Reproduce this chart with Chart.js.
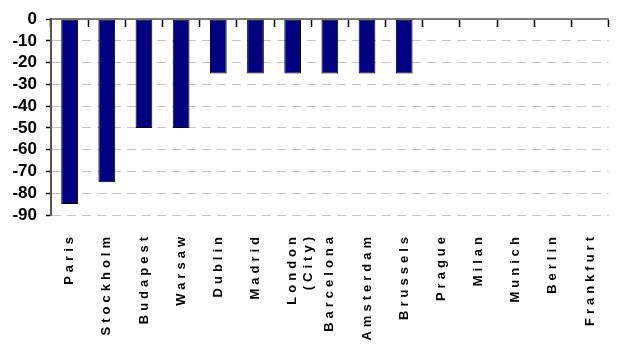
<!DOCTYPE html>
<html>
<head>
<meta charset="utf-8">
<script src="https://cdn.jsdelivr.net/npm/chart.js@4/dist/chart.umd.min.js"></script>
<style>
  html, body { margin: 0; padding: 0; background: #fff; }
  #wrap { width: 624px; height: 360px; }
</style>
</head>
<body>
<div id="wrap"><canvas id="chart_cities"></canvas></div>
<script>
var cities = ['Paris', 'Stockholm', 'Budapest', 'Warsaw', 'Dublin', 'Madrid', ['London', '(City)'],
  'Barcelona', 'Amsterdam', 'Brussels', 'Prague', 'Milan', 'Munich', 'Berlin', 'Frankfurt'];
var values = [-85, -75, -50, -50, -25, -25, -25, -25, -25, -25, 0, 0, 0, 0, 0];
var yTicks = { min: -90, max: 0, step: 10 };

var fontFamily = "'Liberation Sans', Arial, sans-serif";

var chart_cities = new Chart(document.getElementById('chart_cities'), {
    type: 'bar',
    data: {
        labels: cities,
        datasets: [
            {
                data: values,
                backgroundColor: '#000080',
                borderColor: '#000000',
                borderWidth: 1,
                borderSkipped: false,
                categoryPercentage: 1,
                barPercentage: 0.45
            }
        ]
    },
    options: {
        animation: false,
        responsive: true,
        maintainAspectRatio: false,
        layout: {
            padding: { top: 17, right: 9, left: 0, bottom: 0 }
        },
        plugins: {
            legend: { display: false },
            tooltip: { enabled: false }
        },
        scales: {
            x: {
                type: 'category',
                position: 'bottom',
                offset: true,
                grid: { display: false, drawTicks: false },
                border: { display: false },
                ticks: {
                    autoSkip: false,
                    minRotation: 90,
                    maxRotation: 90,
                    padding: 18,
                    z: 1,
                    color: '#000',
                    font: { family: fontFamily, size: 13, weight: 'bold' }
                },
                afterFit: function(scale) { scale.height = 145; }
            },
            // axis line at value 0, with the category ticks pointing down
            x2: {
                type: 'category',
                labels: cities,
                position: { y: 0 },
                offset: true,
                grid: {
                    offset: true,
                    drawOnChartArea: false,
                    drawTicks: true,
                    tickLength: 7,
                    tickColor: () => '#000000',
                    tickWidth: 1.5
                },
                border: { display: true, color: '#7a7a7a', width: 2 },
                ticks: { display: false }
            },
            y: {
                type: 'linear',
                min: yTicks.min,
                max: yTicks.max,
                grid: {
                    color: '#c4c4c4',
                    lineWidth: 1,
                    tickLength: 5,
                    tickColor: () => '#000000',
                    tickWidth: 1.5,
                    tickBorderDash: []
                },
                border: { display: true, color: '#555555', width: 2, dash: [9, 6] },
                ticks: {
                    autoSkip: false,
                    stepSize: yTicks.step,
                    padding: 9,
                    color: '#000',
                    font: { family: fontFamily, size: 17, weight: 'bold' }
                },
                afterFit: function(scale) { scale.width = 51; }
            }
        }
    },
    plugins: [{
        id: 'customPlugin',
        beforeDraw: (chart, args, options) => {
            const ctx = chart.ctx;
            ctx.letterSpacing = '0px';
            ctx.save();
            ctx.globalCompositeOperation = 'destination-over';
            ctx.fillStyle = 'white';
            ctx.fillRect(0, 0, chart.canvas.width, chart.canvas.height);
            ctx.restore();
        },
        afterDatasetsDraw: (chart) => {
            // only the category labels are drawn after this point
            chart.ctx.letterSpacing = '4px';
        },
        afterDraw: (chart) => {
            chart.ctx.letterSpacing = '0px';
        }
    }]
});
</script>
</body>
</html>
